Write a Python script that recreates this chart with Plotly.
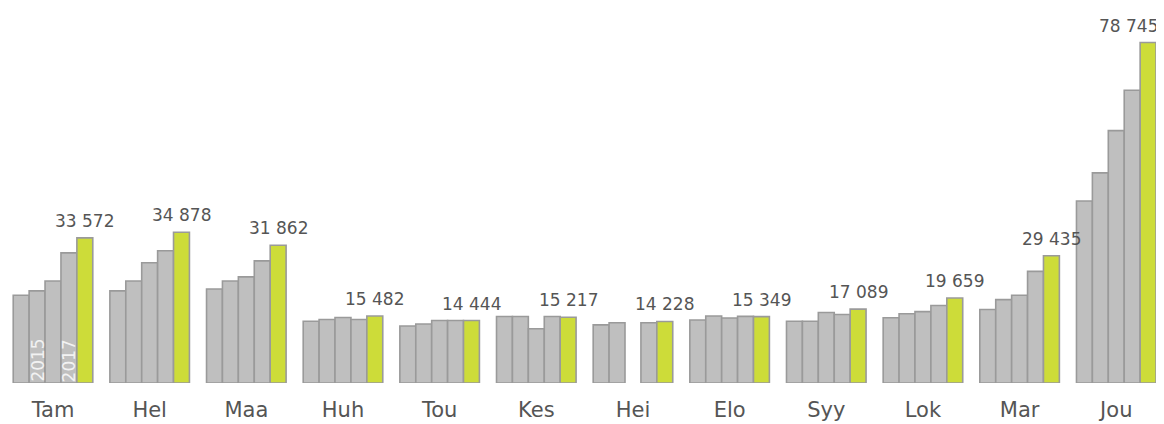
import plotly.graph_objects as go

months = ["Tam", "Hel", "Maa", "Huh", "Tou", "Kes", "Hei", "Elo", "Syy", "Lok", "Mar", "Jou"]
years = ["2014", "2015", "2016", "2017", "2018"]

v2014 = [20300, 21300, 21750, 14290, 13180, 15370, 13450, 14560, 14280, 15080, 16990, 42110]
v2015 = [21300, 23600, 23600, 14690, 13650, 15370, 13920, 15510, 14280, 16030, 19290, 48590]
v2016 = [23600, 27800, 24550, 15160, 14444, 12560, None, 15030, 16310, 16500, 20290, 58380]
v2017 = [30100, 30600, 28250, 14690, 14444, 15370, 13920, 15400, 15840, 17920, 25820, 67720]
v2018 = [33572, 34878, 31862, 15482, 14444, 15217, 14228, 15349, 17089, 19659, 29435, 78745]

series = [v2014, v2015, v2016, v2017, v2018]
labelled_years = ["2015", "2017"]

GRAY = "#bfbfbf"
GREEN = "#cddc39"
EDGE = "#9a9a9a"
TEXT = "#555555"
FONT = "DejaVu Sans"

FIG_W, FIG_H = 1156, 416
CAT_PX = 96.66
BARGAP = 0.177

fig = go.Figure()
for yr, vals in zip(years, series):
    fig.add_trace(go.Bar(
        x=months, y=vals, name=yr,
        marker=dict(color=GREEN if yr == years[-1] else GRAY,
                    line=dict(color=EDGE, width=1.6)),
        hoverinfo="x+y+name",
    ))

bar_px = CAT_PX * (1 - BARGAP) / len(years)

def offset(i):
    return (i - (len(years) - 1) / 2) * bar_px

ann = []
for m, v in zip(months, v2018):
    txt = f"{v:,}".replace(",", " ")
    if m == months[-1]:
        ann.append(dict(x=m, y=v, text=txt, showarrow=False, xanchor="right",
                        yanchor="bottom", xshift=offset(4) + bar_px / 2 + 4, yshift=5,
                        font=dict(family=FONT, size=17, color=TEXT)))
    else:
        ann.append(dict(x=m, y=v, text=txt, showarrow=False, xanchor="center",
                        yanchor="bottom", xshift=offset(4), yshift=5,
                        font=dict(family=FONT, size=17, color=TEXT)))

for yr in labelled_years:
    i = years.index(yr)
    ann.append(dict(x=months[0], y=0, text=yr, showarrow=False, textangle=-90,
                    xanchor="center", yanchor="bottom", xshift=offset(i), yshift=-1,
                    font=dict(family=FONT, size=17, color="#f2f2f2")))

r0 = -45.0 / CAT_PX
r1 = r0 + FIG_W / CAT_PX

fig.update_layout(
    width=FIG_W, height=FIG_H,
    margin=dict(l=0, r=0, t=0, b=41),
    barmode="group", bargap=BARGAP, bargroupgap=0,
    plot_bgcolor="white", paper_bgcolor="white",
    showlegend=False,
    annotations=ann,
    font=dict(family=FONT, color=TEXT),
    xaxis=dict(showgrid=False, zeroline=False, showline=False, ticks="",
               range=[r0, r1], ticklabelstandoff=12,
               tickfont=dict(family=FONT, size=21, color=TEXT)),
    yaxis=dict(visible=False, range=[0, 86735], showgrid=False, zeroline=False),
)

fig.write_html("out.html")
